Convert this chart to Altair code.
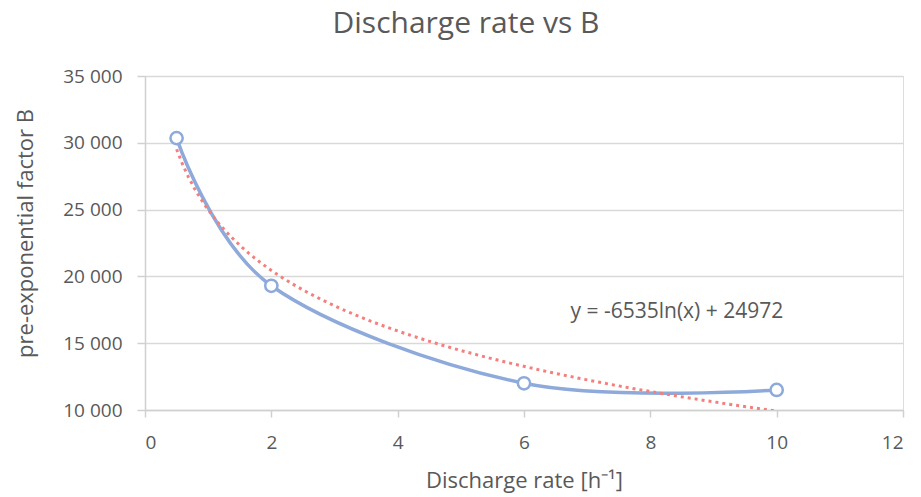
import altair as alt
import pandas as pd

# ---- data ----
rate = [0.5, 2, 6, 10]
b_factor = [30350, 19300, 12000, 11500]
x_ticks = [0, 2, 4, 6, 8, 10, 12]
y_ticks = [10000, 15000, 20000, 25000, 30000, 35000]
equation = ["y = -6535ln(x) + 24972"]
chart_title = ["Discharge rate vs B"]
x_title = "Discharge rate [h\u207b\u00b9]"
y_title = "pre-exponential factor B"

df = pd.DataFrame({"rate": rate, "B": b_factor})

FONT = "Open Sans"
TXT = "#595959"
BLUE = "#8eaadb"
RED = "#f47f7c"

x_scale = alt.Scale(domain=[0, 12], nice=False, zero=False)
y_scale = alt.Scale(domain=[10000, 35000], nice=False, zero=False)

x_axis = alt.Axis(
    values=x_ticks, format="d", title=x_title, grid=False,
    domain=True, domainColor="#d0d0d0", domainWidth=1.5,
    ticks=True, tickColor="#d0d0d0", tickSize=7, tickWidth=1.5,
    labelFont=FONT, labelFontSize=19, labelColor=TXT,
    labelBaseline="middle", labelPadding=25,
    titleFont=FONT, titleFontSize=22, titleColor=TXT, titleFontWeight="normal",
    titleX=379, titleY=70, titleBaseline="middle", titleAlign="center",
)
y_axis = alt.Axis(
    values=y_ticks, title=y_title, grid=True, gridColor="#d9d9d9", gridWidth=1.5,
    domain=True, domainColor="#d0d0d0", domainWidth=1.5,
    ticks=True, tickColor="#d0d0d0", tickSize=8, tickWidth=1.5,
    labelFont=FONT, labelFontSize=19, labelColor=TXT, labelPadding=15,
    labelExpr="replace(format(datum.value, ','), ',', ' ')",
    titleFont=FONT, titleFontSize=22, titleColor=TXT, titleFontWeight="normal",
    titleX=-120, titleY=157, titleAngle=-90, titleBaseline="middle", titleAlign="center",
)

base = alt.Chart(df)

line = base.mark_line(interpolate="cardinal", color=BLUE, strokeWidth=3.5).encode(
    x=alt.X("rate:Q", scale=x_scale, axis=x_axis),
    y=alt.Y("B:Q", scale=y_scale, axis=y_axis),
)

points = base.mark_point(
    shape="circle", filled=True, fill="white", stroke=BLUE, strokeWidth=2.5,
    size=150, opacity=1,
).encode(x="rate:Q", y="B:Q")

trend = base.transform_regression("rate", "B", method="log").mark_line(
    color=RED, strokeDash=[3, 4], strokeWidth=3, clip=True
).encode(x="rate:Q", y="B:Q")

label = alt.Chart(pd.DataFrame({"t": equation})).mark_text(
    font=FONT, fontSize=21, color=TXT, align="center", baseline="middle"
).encode(text="t:N", x=alt.datum(8.42), y=alt.datum(17300))

title = alt.Chart(pd.DataFrame({"t": chart_title})).mark_text(
    font=FONT, fontSize=30, color=TXT, align="center", baseline="alphabetic"
).encode(text="t:N", x=alt.value(321), y=alt.value(-43))

chart = alt.layer(line, points, trend, label, title).properties(
    width=758, height=334,
    padding={"left": 145, "top": 76, "right": 18, "bottom": 87},
    autosize=alt.AutoSizeParams(type="none"),
).configure_view(stroke=None).configure(background="white")

chart.save("out.html", embed_options={"renderer": "svg", "actions": False})
